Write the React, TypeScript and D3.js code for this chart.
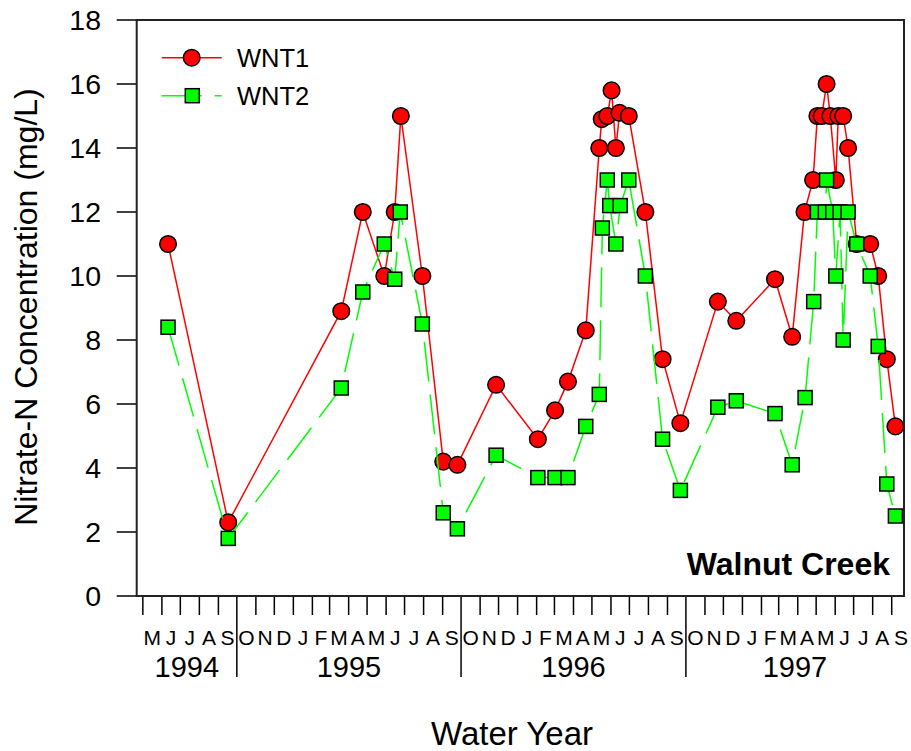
import React from "react";
import * as d3 from "d3";

// Axis range and tick values
const axisStart = "1994-04-21";
const axisEnd = "1997-09-21";
const yTicks = [0, 2, 4, 6, 8, 10, 12, 14, 16, 18];
const monthLetters = ["J", "F", "M", "A", "M", "J", "J", "A", "S", "O", "N", "D"];
const waterYears = [1994, 1995, 1996, 1997];

// WNT1 samples
const wnt1Dates = [
  "1994-06-11", "1994-09-17", "1995-03-20", "1995-04-24", "1995-05-29", "1995-06-15",
  "1995-06-25", "1995-07-30", "1995-09-02", "1995-09-25", "1995-11-27", "1996-02-03",
  "1996-03-02", "1996-03-23", "1996-04-21", "1996-05-13", "1996-05-17", "1996-05-26",
  "1996-06-02", "1996-06-09", "1996-06-15", "1996-06-30", "1996-07-27", "1996-08-24",
  "1996-09-22", "1996-11-22", "1996-12-22", "1997-02-23", "1997-03-23", "1997-04-12",
  "1997-04-26", "1997-05-03", "1997-05-10", "1997-05-18", "1997-05-24", "1997-06-02",
  "1997-06-06", "1997-06-14", "1997-06-22", "1997-07-06", "1997-07-28", "1997-08-10",
  "1997-08-24", "1997-09-07",
];
const wnt1Values = [
  11.0, 2.3, 8.9, 12.0, 10.0, 12.0,
  15.0, 10.0, 4.2, 4.1, 6.6, 4.9,
  5.8, 6.7, 8.3, 14.0, 14.9, 15.0,
  15.8, 14.0, 15.1, 15.0, 12.0, 7.4,
  5.4, 9.2, 8.6, 9.9, 8.1, 12.0,
  13.0, 15.0, 15.0, 16.0, 15.0, 13.0,
  15.0, 15.0, 14.0, 11.0, 11.0, 10.0,
  7.4, 5.3,
];

// WNT2 samples
const wnt2Dates = [
  "1994-06-11", "1994-09-17", "1995-03-20", "1995-04-24", "1995-05-29", "1995-06-15",
  "1995-06-24", "1995-07-30", "1995-09-02", "1995-09-25", "1995-11-27", "1996-02-03",
  "1996-03-02", "1996-03-23", "1996-04-21", "1996-05-13", "1996-05-18", "1996-05-26",
  "1996-05-30", "1996-06-09", "1996-06-16", "1996-06-30", "1996-07-27", "1996-08-24",
  "1996-09-22", "1996-11-22", "1996-12-22", "1997-02-23", "1997-03-23", "1997-04-13",
  "1997-04-27", "1997-05-03", "1997-05-16", "1997-05-18", "1997-05-28", "1997-06-02",
  "1997-06-09", "1997-06-14", "1997-06-22", "1997-07-06", "1997-07-28", "1997-08-10",
  "1997-08-24", "1997-09-07",
];
const wnt2Values = [
  8.4, 1.8, 6.5, 9.5, 11.0, 9.9,
  12.0, 8.5, 2.6, 2.1, 4.4, 3.7,
  3.7, 3.7, 5.3, 6.3, 11.5, 13.0,
  12.2, 11.0, 12.2, 13.0, 10.0, 4.9,
  3.3, 5.9, 6.1, 5.7, 4.1, 6.2,
  9.2, 12.0, 12.0, 13.0, 12.0, 10.0,
  12.0, 8.0, 12.0, 11.0, 10.0, 7.8,
  3.5, 2.5,
];

const W = 911;
const H = 751;
const plot = { left: 136.7, right: 904, top: 20, bottom: 596 };
const FONT = "'Liberation Sans', Arial, sans-serif";
const RED = "#ff0000";
const GREEN = "#00ff00";

const parse = d3.timeParse("%Y-%m-%d");

export default function App() {
  const start = parse(axisStart)!;
  const end = parse(axisEnd)!;
  const x = d3.scaleTime().domain([start, end]).range([plot.left, plot.right]);
  const y = d3.scaleLinear().domain([0, 18]).range([plot.bottom, plot.top]);

  const s1 = wnt1Dates.map((d, i) => ({ date: parse(d)!, v: wnt1Values[i] }));
  const s2 = wnt2Dates.map((d, i) => ({ date: parse(d)!, v: wnt2Values[i] }));

  const line = d3
    .line<{ date: Date; v: number }>()
    .x((d) => x(d.date))
    .y((d) => y(d.v));

  const monthStarts = d3.timeMonth.range(d3.timeMonth.ceil(start), end);
  const monthCenters = monthStarts.map((m) => ({
    m,
    cx: (x(m) + x(d3.timeMonth.offset(m, 1))) / 2,
  }));

  const yearSpans = waterYears.map((yr) => {
    const a = new Date(yr - 1, 9, 1);
    const b = new Date(yr, 9, 1);
    const xa = Math.max(plot.left, x(a));
    const xb = Math.min(plot.right, x(b));
    return { yr, cx: (xa + xb) / 2 };
  });

  const sq = 14;
  const r = 8.3;

  return (
    <svg width={W} height={H} style={{ display: "block", position: "absolute", left: 0, top: 0 }}>
      <rect x={0} y={0} width={W} height={H} fill="#fff" />

      {/* y ticks and labels */}
      {yTicks.map((t) => (
        <g key={t}>
          <line x1={plot.left - 20} x2={plot.left} y1={y(t)} y2={y(t)} stroke="#000" strokeWidth={1.5} />
          <text x={101} y={y(t)} dy="0.36em" textAnchor="end" fontFamily={FONT} fontSize={28.5}>
            {t}
          </text>
        </g>
      ))}

      {/* month ticks, longer at water-year boundaries */}
      {monthStarts.map((m, i) => (
        <line
          key={i}
          x1={x(m)}
          x2={x(m)}
          y1={plot.bottom}
          y2={m.getMonth() === 9 ? 677 : 615}
          stroke="#000"
          strokeWidth={1.5}
        />
      ))}
      {monthCenters.map((d, i) => (
        <text key={i} x={d.cx} y={645} textAnchor="middle" fontFamily={FONT} fontSize={21}>
          {monthLetters[d.m.getMonth()]}
        </text>
      ))}
      {yearSpans.map((d) => (
        <text key={d.yr} x={d.cx} y={677} textAnchor="middle" fontFamily={FONT} fontSize={29}>
          {d.yr}
        </text>
      ))}

      {/* series WNT1 */}
      <path d={line(s1)!} fill="none" stroke={RED} strokeWidth={1.5} />
      {s1.map((d, i) => (
        <circle key={i} cx={x(d.date)} cy={y(d.v)} r={r} fill={RED} stroke="#000" strokeWidth={1.5} />
      ))}

      {/* series WNT2 */}
      <path d={line(s2)!} fill="none" stroke={GREEN} strokeWidth={1.5} strokeDasharray="40 13" />
      {s2.map((d, i) => (
        <rect
          key={i}
          x={x(d.date) - sq / 2}
          y={y(d.v) - sq / 2}
          width={sq}
          height={sq}
          fill={GREEN}
          stroke="#000"
          strokeWidth={1.5}
        />
      ))}

      {/* frame */}
      <rect
        x={plot.left}
        y={plot.top}
        width={plot.right - plot.left}
        height={plot.bottom - plot.top}
        fill="none"
        stroke="#222"
        strokeWidth={2}
      />

      {/* legend */}
      <g>
        <line x1={161.7} x2={221.7} y1={57.7} y2={57.7} stroke={RED} strokeWidth={1.5} />
        <circle cx={191.7} cy={57.7} r={r} fill={RED} stroke="#000" strokeWidth={1.5} />
        <text x={237} y={66.7} fontFamily={FONT} fontSize={25.5}>
          WNT1
        </text>
        <line
          x1={161.7}
          x2={221.7}
          y1={95.7}
          y2={95.7}
          stroke={GREEN}
          strokeWidth={1.5}
          strokeDasharray="40 13"
        />
        <rect x={192.3 - sq / 2} y={95.7 - sq / 2} width={sq} height={sq} fill={GREEN} stroke="#000" strokeWidth={1.5} />
        <text x={237} y={105} fontFamily={FONT} fontSize={25.5}>
          WNT2
        </text>
      </g>

      <text x={890} y={575} textAnchor="end" fontFamily={FONT} fontSize={32} fontWeight="bold">
        Walnut Creek
      </text>

      {/* axis titles */}
      <text x={512} y={745} textAnchor="middle" fontFamily={FONT} fontSize={33}>
        Water Year
      </text>
      <text
        transform={`translate(37, 307) rotate(-90)`}
        textAnchor="middle"
        fontFamily={FONT}
        fontSize={32}
      >
        Nitrate-N Concentration (mg/L)
      </text>
    </svg>
  );
}
